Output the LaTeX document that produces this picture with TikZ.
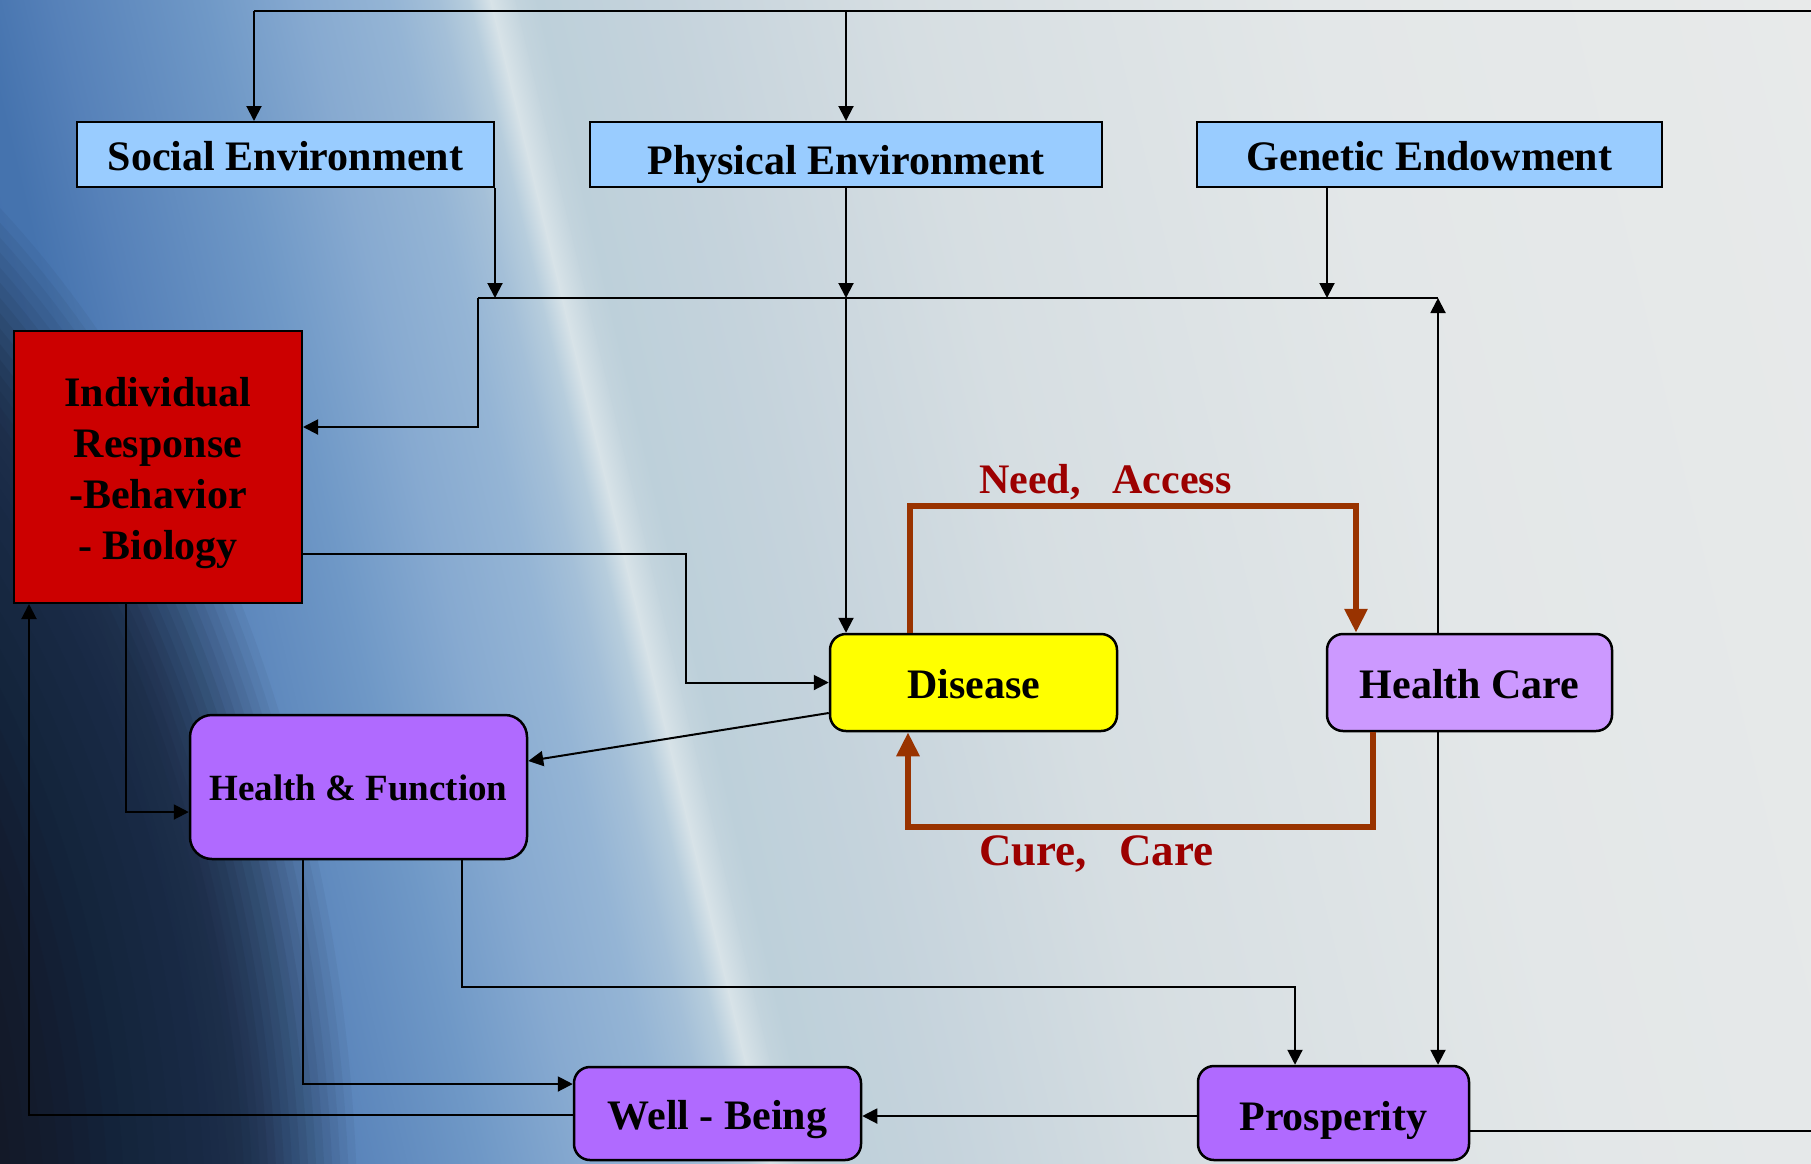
\documentclass[tikz,border=0pt]{standalone}
\usepackage{fontspec}
\setmainfont{Liberation Serif}
\usetikzlibrary{arrows.meta,calc}

\definecolor{boxblue}{HTML}{99CCFF}
\definecolor{boxred}{HTML}{CC0000}
\definecolor{boxyellow}{HTML}{FFFF00}
\definecolor{boxlilac}{HTML}{CC99FF}
\definecolor{boxpurple}{HTML}{B06AFF}
\definecolor{loopbrown}{HTML}{993300}
\definecolor{labelred}{HTML}{9C0000}
\definecolor{navyc}{HTML}{131926}
\definecolor{bgA}{HTML}{33609F}
\definecolor{bgB}{HTML}{4573AE}
\definecolor{bgC}{HTML}{5580B8}
\definecolor{bgD}{HTML}{7099C7}
\definecolor{bgE}{HTML}{86A9D0}
\definecolor{bgF}{HTML}{95B5D5}
\definecolor{bgG}{HTML}{A5C0D8}
\definecolor{bgH}{HTML}{B8CEDD}
\definecolor{bgI}{HTML}{D8E3E8}
\definecolor{bgJ}{HTML}{C3D4DD}
\definecolor{bgK}{HTML}{BDD0DA}
\definecolor{bgL}{HTML}{C5D3DC}
\definecolor{bgM}{HTML}{D6DEE2}
\definecolor{bgN}{HTML}{E3E7E8}
\definecolor{bgO}{HTML}{E8EAEA}

\newcommand\myfontbig{\fontsize{42pt}{51pt}\selectfont\bfseries}
\newcommand\myfonthf{\fontsize{37pt}{44pt}\selectfont\bfseries}
\newcommand\myfontneed{\fontsize{42pt}{50pt}\selectfont\bfseries}
\newcommand\myfontcure{\fontsize{45pt}{54pt}\selectfont\bfseries}

\tikzset{
  envbox/.style={draw=black, line width=2pt, fill=boxblue, minimum height=65pt, inner sep=0pt,
                 text height=38pt, text depth=6pt, font=\myfontbig},
  roundbox/.style={draw=black, line width=2.5pt, rounded corners=16pt, inner sep=0pt,
                   text height=38pt, text depth=6pt, font=\myfontbig},
  conn/.style={draw=black, line width=2pt, -{Triangle[length=15pt,width=15pt]}},
  plainline/.style={draw=black, line width=2pt},
  loopline/.style={draw=loopbrown, line width=6pt, -{Triangle[length=24pt,width=22pt]}},
  looplabel/.style={text=labelred, inner sep=0pt, anchor=base west},
}

\begin{document}
\begin{tikzpicture}[x=1pt,y=-1pt]
\useasboundingbox (0,0) rectangle (1811,1163);

% ---------- background ----------
\begin{scope}
  \clip (0,0) rectangle (1811,1163);
  \fill[bgO] (0,0) rectangle (1811,1163);
  \begin{scope}[transform canvas={rotate around={13.5:(630,581)}}]
    \foreach \xa/\xb/\ca/\cb in {-770/130/bgA/bgB, 130/200/bgB/bgC, 200/355/bgC/bgD,
      355/445/bgD/bgE, 445/535/bgE/bgF, 535/580/bgF/bgG, 580/610/bgG/bgH,
      610/630/bgH/bgI, 630/655/bgI/bgJ, 655/675/bgJ/bgK, 675/800/bgK/bgL,
      800/1030/bgL/bgM, 1030/1430/bgM/bgN, 1430/1930/bgN/bgO, 1930/3030/bgO/bgO}
    {
      \shade[left color=\ca, right color=\cb] (\xa-0.6,-900) rectangle (\xb+0.6,2100);
    }
  \end{scope}
  \foreach \s/\o in {1.07/0.05, 1.06/0.053, 1.05/0.056, 1.04/0.059, 1.03/0.0625,
      1.02/0.076, 1.01/0.081, 1.00/0.089, 0.99/0.086, 0.98/0.094, 0.97/0.104,
      0.96/0.102, 0.95/0.075, 0.94/0.078, 0.93/0.088, 0.92/0.027, 0.91/0.027,
      0.90/0.028, 0.89/0.029, 0.88/0.03, 0.86/0.038, 0.84/0.04, 0.82/0.042,
      0.80/0.043, 0.78/0.091, 0.76/0.1, 0.74/0.144, 0.72/0.169, 0.70/0.219,
      0.68/0.24, 0.66/0.316, 0.64/0.308, 0.62/0.333, 0.60/0.167}
  {
    \fill[navyc, fill opacity=\o] (-500,1250) ellipse [x radius=\s*802, y radius=\s*1198];
  }
\end{scope}

% ---------- nodes ----------
\node[envbox, minimum width=417pt] (social) at (285.5,154.5) {Social Environment};
\node[envbox, minimum width=512pt, text height=45pt] (physical) at (846,154.5) {Physical Environment};
\node[envbox, minimum width=465pt] (genetic) at (1429.5,154.5) {Genetic Endowment};
\node[draw=black, line width=2pt, fill=boxred, minimum width=288pt, minimum height=272pt,
      inner sep=0pt, align=center, font=\myfontbig] (indiv) at (158,467)
      {\rule{0pt}{42pt}Individual\\Response\\-Behavior\\- Biology};
\node[roundbox, fill=boxyellow, minimum width=287pt, minimum height=97pt] (disease) at (973.5,682.5) {Disease};
\node[roundbox, fill=boxlilac, minimum width=285pt, minimum height=97pt] (healthcare) at (1469.5,682.5) {Health Care};
\node[roundbox, fill=boxpurple, rounded corners=22pt, minimum width=337pt, minimum height=144pt,
      text height=34pt, text depth=8pt, font=\myfonthf] (hf) at (358.5,787) {Health \& Function};
\node[roundbox, fill=boxpurple, minimum width=287pt, minimum height=93pt] (wellbeing) at (717.5,1113.5) {Well - Being};
\node[roundbox, fill=boxpurple, minimum width=271pt, minimum height=94pt, text height=39pt, text depth=5pt] (prosperity) at (1333.5,1113) {Prosperity};

\node[looplabel, font=\myfontneed] (needlbl) at (979,493) {Need,\hspace{32pt}Access};
\node[looplabel, font=\myfontcure] (curelbl) at (979,865) {Cure,\hspace{32pt}Care};

% ---------- helper coordinates ----------
\coordinate (topL) at (254,11);
\coordinate (topR) at (1811,11);
\coordinate (botR) at (1811,1131);
\coordinate (busL) at (478,298);
\coordinate (busR) at (1438,298);
\coordinate (jx) at (686,554);
\coordinate (hy) at (462,987);
\coordinate (ny) at (0,506);
\coordinate (cy) at (0,827);
\coordinate (gfoot) at ([xshift=-102.5pt]genetic.south);
\coordinate (indIn) at ([yshift=40pt]indiv.east);
\coordinate (indOut) at ([yshift=-87pt]indiv.east);
\coordinate (disOut) at ([yshift=-30.5pt]disease.west);
\coordinate (hfIn) at ([yshift=26pt]hf.east);
\coordinate (indDown) at ([xshift=-32pt]indiv.south);
\coordinate (hfLeft) at ([yshift=-25pt]hf.west);
\coordinate (hfDownA) at ([xshift=-56pt]hf.south);
\coordinate (wbIn) at ([yshift=29.5pt]wellbeing.west);
\coordinate (hfDownB) at ([xshift=103.5pt]hf.south);
\coordinate (prIn) at ([xshift=-38.5pt]prosperity.north);
\coordinate (prOut) at ([yshift=-3pt]prosperity.west);
\coordinate (wbOut) at ([yshift=-1.5pt]wellbeing.west);
\coordinate (indUp) at ([xshift=16pt]indiv.south west);
\coordinate (disTop) at ([xshift=-63.5pt]disease.north);
\coordinate (hcTop) at ([xshift=-113.5pt]healthcare.north);
\coordinate (hcBot) at ([xshift=-96.5pt]healthcare.south);
\coordinate (disBot) at ([xshift=-65.5pt]disease.south);

% ---------- connectors ----------
\draw[plainline] (topR) -- (topL);
\draw[conn] (topL) -- (topL |- social.north);
\draw[conn] (physical.north |- topL) -- (physical.north);
\draw[plainline] (prosperity.east |- botR) -- (botR);

\draw[conn] (social.south east) -- (social.south east |- busL);
\draw[conn] (physical.south) -- (physical.south |- busL);
\draw[conn] (physical.south |- busL) -- (physical.south |- disease.north);
\draw[conn] (gfoot) -- (gfoot |- busL);
\draw[plainline] (busR) -- (busL);
\draw[conn] (busL) -- (busL |- indIn) -- (indIn);

\draw[conn] (busR |- healthcare.north) -- (busR);
\draw[conn] (busR |- healthcare.south) -- (busR |- prosperity.north);

\draw[conn] (indOut) -- (indOut -| jx) -- (jx |- disease.west) -- (disease.west);
\draw[conn] (disOut) -- (hfIn);
\draw[conn] (indDown) |- (hfLeft);
\draw[conn] (hfDownA) |- (wbIn);
\draw[conn] (hfDownB) -- (hfDownB |- hy) -- (prIn |- hy) -- (prIn);
\draw[conn] (prOut) -- (prOut -| wellbeing.east);
\draw[conn] (wbOut) -| (indUp);

\draw[loopline] (disTop) -- (disTop |- ny) -- (hcTop |- ny) -- (hcTop);
\draw[loopline] (hcBot) -- (hcBot |- cy) -- (disBot |- cy) -- (disBot);
\end{tikzpicture}
\end{document}
